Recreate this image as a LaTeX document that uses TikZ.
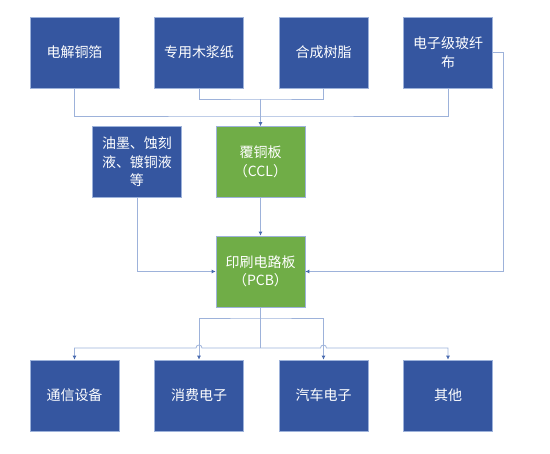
\documentclass[tikz,border=0pt]{standalone}
\usepackage{fontspec}
\setmainfont{Noto Sans CJK SC}
\usetikzlibrary{arrows.meta}
\definecolor{boxblue}{HTML}{3556A0}
\definecolor{boxgreen}{HTML}{70AD47}
\definecolor{linec}{HTML}{9DB2DA}
\definecolor{arrc}{HTML}{4A6BB0}
\tikzset{
  x=1pt,y=-1pt,
  box/.style={draw=linec,line width=0.6pt,minimum width=89pt,minimum height=71pt,
    text=white,font=\fontsize{14pt}{18.5pt}\selectfont,align=center,inner sep=2pt},
  bluebox/.style={box,fill=boxblue},
  greenbox/.style={box,fill=boxgreen},
  conn/.style={draw=linec,line width=0.8pt},
  arr/.style={-{Latex[length=4pt,width=4pt,color=arrc]}},
  arrboth/.style={{Latex[length=4pt,width=4pt,color=arrc]}-{Latex[length=4pt,width=4pt,color=arrc]}}
}
\begin{document}
\begin{tikzpicture}
\useasboundingbox (0,0) rectangle (550,454);
% top row
\node[bluebox] (b1) at (74.5,52.5) {电解铜箔};
\node[bluebox] (b2) at (199,52.5) {专用木浆纸};
\node[bluebox] (b3) at (323.5,52.5) {合成树脂};
\node[bluebox,text width=76pt] (b4) at (448,52.5) {电子级玻纤\\布};
% middle
\node[bluebox,text width=76pt] (ink) at (137,162) {油墨、蚀刻\\液、镀铜液\\等};
\node[greenbox] (ccl) at (260.5,162) {覆铜板\\（CCL）};
\node[greenbox] (pcb) at (260.5,271.5) {印刷电路板\\（PCB）};
% bottom row
\node[bluebox] (c1) at (74.5,395.5) {通信设备};
\node[bluebox] (c2) at (199,395.5) {消费电子};
\node[bluebox] (c3) at (323.5,395.5) {汽车电子};
\node[bluebox] (c4) at (448,395.5) {其他};
% junction coordinates
\coordinate (j1) at (260.5,99);
\coordinate (j2) at (260.5,116);
\coordinate (rt) at (503,52.5);
\coordinate (bus1) at (260.5,318);
\coordinate (bus2) at (260.5,348);
% top connectors
\draw[conn] (b2.south) |- (j1) -| (b3.south);
\draw[conn] (b1.south) |- (j2) -| (b4.south);
\draw[conn,arr] (j1) -- (ccl.north);
\draw[conn] (b4.east) -- (rt);
\draw[conn,arr] (rt) |- (pcb.east);
\draw[conn,arr] (ink.south) |- (pcb.west);
\draw[conn,arr] (ccl.south) -- (pcb.north);
% bottom connectors
\draw[conn] (pcb.south) -- (bus2);
\draw[conn,arrboth] (c2.north) |- (bus1) -| (c3.north);
\draw[conn,arrboth] (c1.north) -- (c1.north |- bus2)
  -- ([xshift=-3pt]c2.north |- bus2) arc (180:360:3)
  -- ([xshift=-3pt]c3.north |- bus2) arc (180:360:3)
  -- (c4.north |- bus2) -- (c4.north);
\end{tikzpicture}
\end{document}
